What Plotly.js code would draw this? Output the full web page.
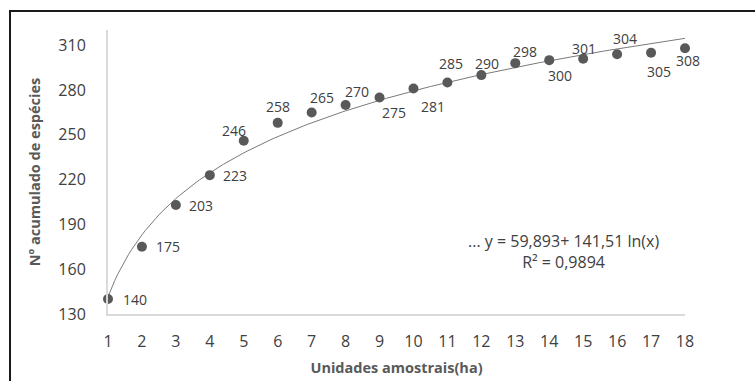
<!DOCTYPE html>
<html>
<head>
<meta charset="utf-8">
<script src="https://cdn.plot.ly/plotly-3.0.1.min.js"></script>
<style>
  html, body { margin: 0; padding: 0; background: #fff; }
  #wrap { position: relative; width: 755px; height: 381px; }
  #chart { width: 755px; height: 381px; }
  #frame { position: absolute; left: 9px; top: 10px; width: 746px; height: 371px;
           border-top: 2px solid #1a1a1a; border-left: 2px solid #1a1a1a; box-sizing: border-box;
           pointer-events: none; }
</style>
</head>
<body>
<div id="wrap">
  <div id="chart"></div>
  <div id="frame"></div>
</div>
<script>
// Data
const units = [1, 2, 3, 4, 5, 6, 7, 8, 9, 10, 11, 12, 13, 14, 15, 16, 17, 18];
const species = [140, 175, 203, 223, 246, 258, 265, 270, 275, 281, 285, 290, 298, 300, 301, 304, 305, 308];
const yTicks = [130, 160, 190, 220, 250, 280, 310];
const xTicks = units;
const equationLines = ['... y = 59,893+ 141,51 ln(x)', 'R² = 0,9894'];
const xTitle = 'Unidades amostrais(ha)';
const yTitle = 'Nº acumulado de espécies';

// label offsets (px) relative to each marker
const labelDx = [27, 26, 25, 25, -10, 0, 10, 11, 14, 20, 4, 6, 10, 11, 1, 8, 8, 3];
const labelDy = [0, 0, 0, 0, 10, 16, 15, 13, -15, -18, 19, 12, 12, -15, 10, 16, -19, -12];

// logarithmic least-squares trendline fitted from the data
const lx = units.map(v => Math.log(v));
const n = units.length;
const mx = lx.reduce((a, b) => a + b, 0) / n;
const my = species.reduce((a, b) => a + b, 0) / n;
let sxy = 0, sxx = 0;
for (let i = 0; i < n; i++) { sxy += (lx[i] - mx) * (species[i] - my); sxx += (lx[i] - mx) ** 2; }
const slope = sxy / sxx, intercept = my - slope * mx;
const trendX = [], trendY = [];
for (let k = 0; k <= 170; k++) {
  const x = 1 + k * (17 / 170);
  trendX.push(x); trendY.push(intercept + slope * Math.log(x));
}

const font = "'Open Sans', 'Liberation Sans', sans-serif";

const traces = [
  {
    x: trendX, y: trendY, type: 'scatter', mode: 'lines',
    line: { color: '#7a7a7a', width: 1 }, hoverinfo: 'skip', cliponaxis: false
  },
  {
    x: units, y: species, type: 'scatter', mode: 'markers',
    marker: { color: '#595959', size: 10 }, cliponaxis: false
  }
];

const annotations = units.map((u, i) => ({
  x: u, y: species[i], xref: 'x', yref: 'y', text: String(species[i]),
  showarrow: false, xanchor: 'center', yanchor: 'middle',
  xshift: labelDx[i], yshift: labelDy[i],
  font: { family: font, size: 14, color: '#404040' }
}));
annotations.push({
  x: 0.79, y: 0.22, xref: 'paper', yref: 'paper', text: equationLines.join('<br>'),
  showarrow: false, xanchor: 'center', yanchor: 'middle', align: 'center',
  font: { family: font, size: 16, color: '#404040' }
});

const layout = {
  width: 755, height: 381,
  margin: { l: 108, r: 70, t: 30, b: 67 },
  paper_bgcolor: '#ffffff', plot_bgcolor: '#ffffff',
  showlegend: false,
  xaxis: {
    range: [1, 18], tickvals: xTicks, ticktext: xTicks.map(String),
    showgrid: false, zeroline: false, showline: true, linecolor: '#d9d9d9', linewidth: 2,
    ticks: '', ticklabelstandoff: 12,
    tickfont: { family: font, size: 16, color: '#404040' },
    title: { text: '<b>' + xTitle + '</b>', standoff: 12, font: { family: font, size: 14.5, color: '#595959' } }
  },
  yaxis: {
    range: [130, 320.2], tickvals: yTicks, ticktext: yTicks.map(String),
    showgrid: false, zeroline: false, showline: true, linecolor: '#d9d9d9', linewidth: 2,
    ticks: '', ticklabelstandoff: 17,
    tickfont: { family: font, size: 16, color: '#404040' },
    title: { text: '<b>' + yTitle + '</b>', standoff: 14, font: { family: font, size: 14.5, color: '#595959' } }
  },
  annotations: annotations
};

Plotly.newPlot('chart', traces, layout, { displayModeBar: false, staticPlot: true });
</script>
</body>
</html>
